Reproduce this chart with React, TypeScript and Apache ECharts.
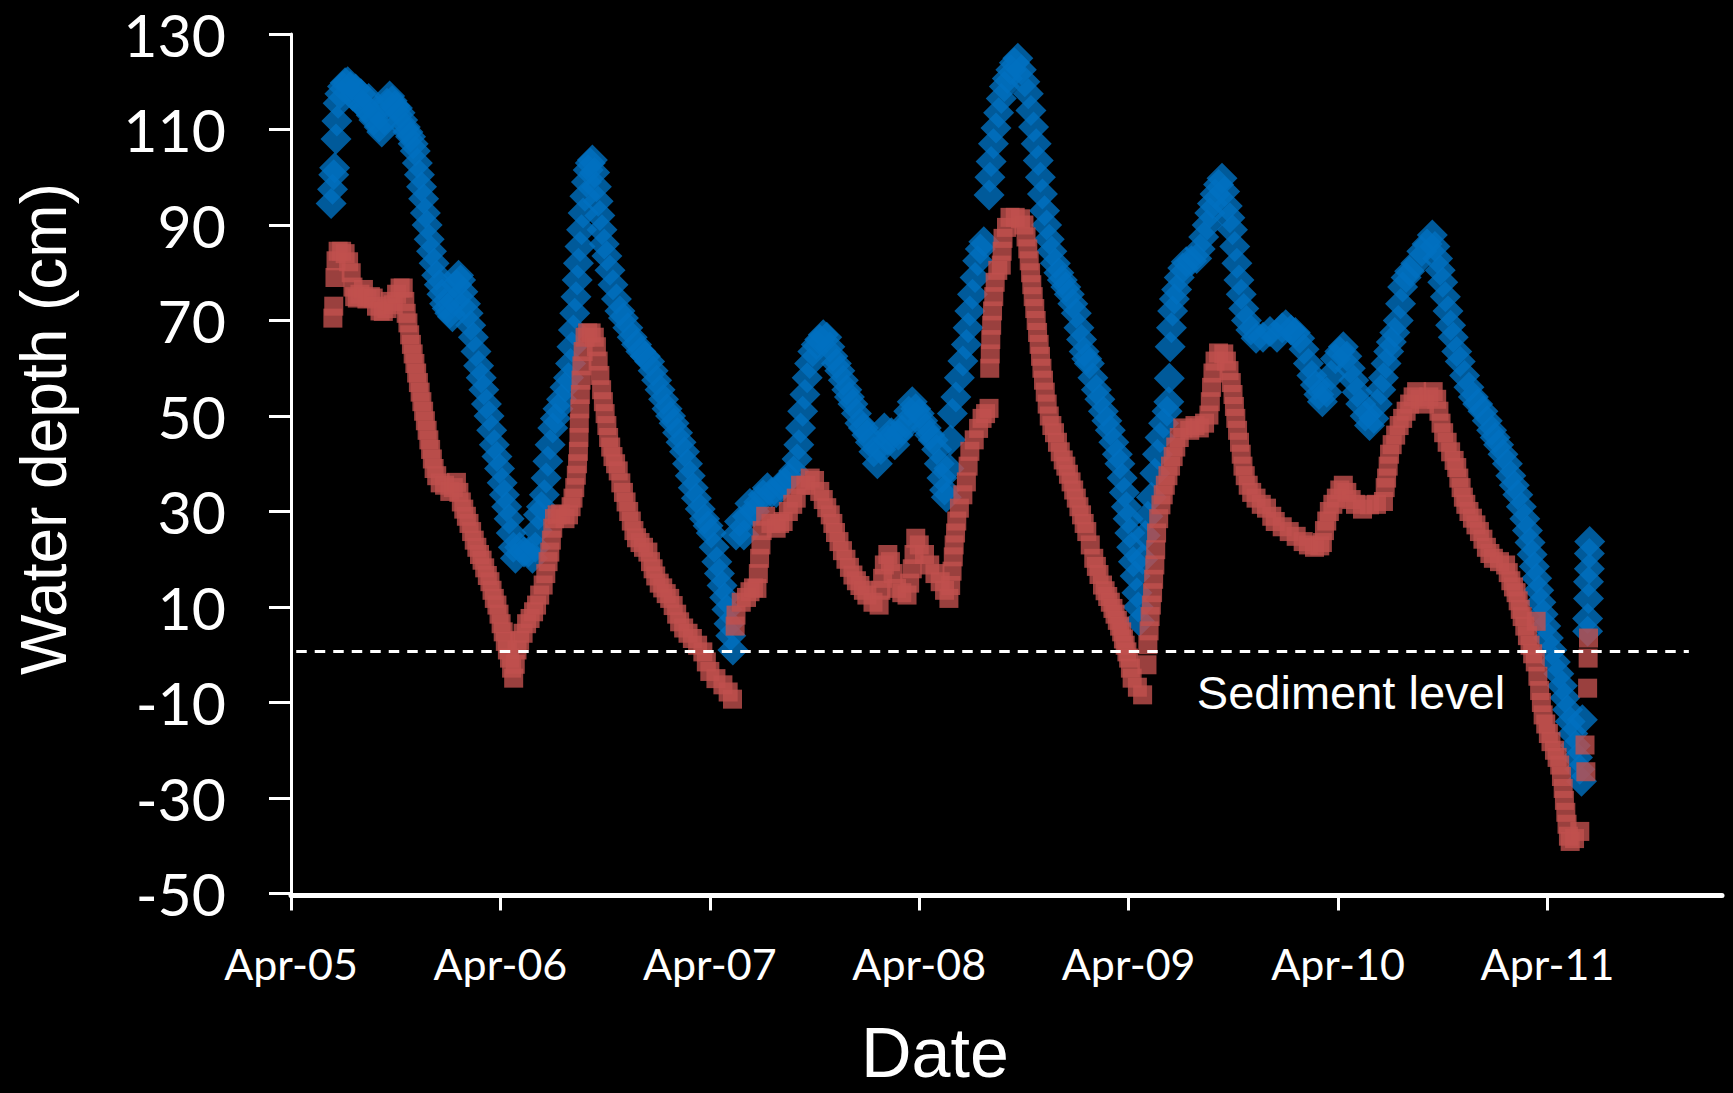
import React, { useEffect, useRef } from "react";
import * as echarts from "echarts";

// x values are months since Apr-05
const tickMonths = [0, 12, 24, 36, 48, 60, 72];
const tickLabels = ["Apr-05", "Apr-06", "Apr-07", "Apr-08", "Apr-09", "Apr-10", "Apr-11"];
const yTickValues = [-50, -30, -10, 10, 30, 50, 70, 90, 110, 130];
const sedimentLevel = 0.8;
const sedimentSpan = [0.3, 80.1];

const blueDepth: [number, number][] = [
  [2.3, 94.5], [2.38, 97.5], [2.45, 100.5], [2.5, 102], [2.58, 108], [2.63, 111.8], [2.7, 115.5], [2.8, 117.5],
  [2.95, 119], [3.1, 119.8], [3.25, 120], [3.4, 119], [3.55, 117], [3.7, 118.5], [3.85, 116], [4.0, 117.5],
  [4.15, 115], [4.3, 114.5], [4.45, 116.5], [4.6, 113], [4.75, 112], [4.9, 114], [5.05, 110.5], [5.2, 109.5],
  [5.35, 112], [5.5, 115.5], [5.65, 117], [5.8, 116], [5.95, 115], [6.1, 114.5], [6.25, 113.5], [6.4, 112],
  [6.55, 110.5], [6.7, 109.5], [6.85, 108.5], [7.0, 107], [7.12, 105.5], [7.24, 103], [7.36, 100.5], [7.48, 98],
  [7.6, 95.5], [7.7, 92.5], [7.8, 90], [7.92, 87], [8.05, 84.5], [8.2, 82], [8.35, 79.5], [8.5, 77.5],
  [8.65, 75.5], [8.8, 73.5], [8.95, 72.5], [9.1, 71.5], [9.25, 70.8], [9.38, 74], [9.48, 77.5], [9.6, 79.5],
  [9.72, 78.5], [9.85, 76], [10.0, 73.5], [10.15, 71.5], [10.3, 69], [10.45, 66.5], [10.6, 63.5], [10.75, 60.5],
  [10.9, 58], [11.05, 55.5], [11.2, 52.5], [11.35, 50], [11.5, 47], [11.65, 44], [11.8, 41.5], [11.95, 39],
  [12.1, 36], [12.23, 33.5], [12.36, 31], [12.5, 28.5], [12.62, 25.5], [12.74, 22.5], [12.86, 20.2], [13.1, 22.5],
  [13.35, 21.5], [13.6, 21.5], [13.84, 20.2], [14.0, 22.5], [14.1, 26], [14.18, 29.3], [14.35, 31], [14.52, 33.5],
  [14.62, 37], [14.72, 40.5], [14.85, 44], [15.0, 47.5], [15.15, 49.5], [15.3, 51.5], [15.5, 53.5], [15.7, 56],
  [15.9, 58], [16.02, 61], [16.1, 64.5], [16.18, 68], [16.26, 71.5], [16.33, 75], [16.4, 78.5], [16.47, 82],
  [16.56, 85.5], [16.65, 89], [16.74, 92.5], [16.84, 96], [16.93, 99], [17.03, 101.5], [17.15, 103], [17.27, 103.6],
  [17.4, 101], [17.5, 98], [17.6, 95], [17.7, 92], [17.82, 89], [17.95, 86], [18.1, 83.5], [18.28, 80.5],
  [18.45, 77.5], [18.65, 74.5], [18.85, 72], [19.05, 70.5], [19.3, 68.5], [19.55, 66.5], [19.8, 65], [20.05, 63.5],
  [20.3, 62.5], [20.55, 61.4], [20.75, 59.5], [20.95, 57.5], [21.15, 55.5], [21.35, 53.5], [21.55, 51.5], [21.75, 50],
  [21.95, 48.5], [22.15, 46.5], [22.35, 44.5], [22.55, 42.5], [22.72, 40], [22.88, 37.5], [23.05, 35], [23.23, 32.8],
  [23.45, 30.5], [23.7, 28.5], [23.9, 27], [24.08, 25.5], [24.25, 22.5], [24.4, 19.5], [24.55, 17], [24.7, 14.5],
  [24.85, 12], [24.98, 9.5], [25.1, 6.5], [25.2, 4], [25.32, 1.0], [25.5, 25.1], [25.7, 27.9], [25.95, 25.1],
  [26.15, 29], [26.3, 31.7], [26.55, 30], [26.8, 32], [27.05, 33.5], [27.3, 35], [27.55, 34], [27.8, 34],
  [28.05, 35.5], [28.3, 36], [28.55, 37], [28.8, 38.5], [29.0, 41], [29.1, 44], [29.2, 47.5], [29.32, 51],
  [29.45, 54.5], [29.58, 58], [29.72, 61], [29.9, 63.5], [30.1, 65], [30.3, 66], [30.5, 67], [30.7, 66.5],
  [30.88, 64.5], [31.05, 62.5], [31.25, 61], [31.45, 59.5], [31.65, 57.5], [31.85, 55.5], [32.0, 54], [32.2, 52.5],
  [32.4, 50.5], [32.6, 48.5], [32.8, 47.5], [33.0, 46], [33.2, 44.5], [33.4, 42.5], [33.6, 40], [33.8, 43],
  [34.0, 47.5], [34.2, 45], [34.4, 46.5], [34.6, 44], [34.8, 46], [35.0, 47], [35.2, 48.5], [35.4, 51],
  [35.6, 53], [35.8, 51.5], [36.0, 50.5], [36.2, 49], [36.4, 47.5], [36.6, 46], [36.8, 45], [37.0, 43],
  [37.15, 40], [37.3, 37], [37.45, 34.5], [37.55, 33], [37.7, 39], [37.8, 45], [37.9, 50.5], [38.1, 54],
  [38.3, 58], [38.5, 61.5], [38.7, 65], [38.8, 68.5], [38.9, 72], [39.05, 75.5], [39.2, 79], [39.35, 82.5],
  [39.5, 85], [39.7, 86.5], [40.0, 96.3], [40.05, 100], [40.12, 103.3], [40.25, 107], [40.4, 110.3], [40.55, 113.5],
  [40.7, 116.5], [40.88, 119], [41.05, 120.7], [41.25, 122.5], [41.45, 124], [41.65, 124.9], [41.85, 122.5], [42.05, 120],
  [42.25, 117.5], [42.4, 114], [42.55, 110.5], [42.7, 107], [42.82, 103.5], [42.94, 100], [43.06, 96.5], [43.18, 93],
  [43.3, 90], [43.45, 87], [43.6, 84.5], [43.8, 82], [44.0, 80], [44.2, 78.5], [44.4, 77], [44.6, 75.5],
  [44.8, 73.5], [45.0, 71.5], [45.15, 68.5], [45.3, 66], [45.45, 63.5], [45.6, 62], [45.75, 61], [45.95, 58],
  [46.15, 55.5], [46.35, 53.5], [46.55, 51], [46.75, 49], [46.95, 47], [47.15, 44.5], [47.35, 42], [47.5, 40],
  [47.63, 37], [47.75, 34], [47.87, 31], [47.97, 28.5], [48.07, 25.5], [48.17, 22.5], [48.27, 19.5], [48.37, 16.5],
  [48.47, 13], [48.55, 10], [48.62, 7], [48.8, 20], [48.95, 25], [49.1, 29], [49.3, 33], [49.5, 38],
  [49.65, 42], [49.8, 45.5], [50.0, 48.5], [50.2, 51], [50.3, 53], [50.33, 57.9], [50.38, 64.5], [50.45, 68.5],
  [50.52, 72], [50.62, 74.5], [50.75, 76.5], [50.9, 79], [51.1, 81], [51.3, 82.3], [51.6, 82.5], [51.9, 83],
  [52.1, 85], [52.3, 87.5], [52.5, 90], [52.65, 92.5], [52.8, 94.5], [52.95, 96.5], [53.15, 98.5], [53.35, 99.8],
  [53.5, 97], [53.65, 94], [53.8, 91.5], [53.95, 89], [54.08, 85.5], [54.2, 82], [54.32, 78.5], [54.45, 75.5],
  [54.6, 72.5], [54.75, 70], [55.0, 68], [55.3, 66.3], [55.7, 66.5], [56.1, 67.7], [56.5, 66.5], [56.8, 68.5],
  [57.0, 69.1], [57.3, 68], [57.55, 67.5], [57.8, 66.3], [58.05, 64], [58.3, 61], [58.5, 58.5], [58.7, 56.5],
  [58.9, 54.5], [59.1, 53], [59.35, 55], [59.6, 58.5], [59.85, 62], [60.1, 63.5], [60.3, 64.5], [60.5, 62.5],
  [60.7, 60], [60.9, 57.5], [61.1, 55], [61.3, 52.5], [61.55, 50], [61.8, 48], [62.05, 49.5], [62.25, 52.5],
  [62.45, 55.5], [62.6, 58], [62.75, 61], [62.9, 63.5], [63.05, 65.5], [63.25, 67.5], [63.45, 70], [63.58, 73.5],
  [63.7, 77], [63.9, 79], [64.1, 80.3], [64.45, 82], [64.8, 84.5], [65.1, 86], [65.4, 87.9], [65.55, 85.5],
  [65.7, 83], [65.85, 80.5], [66.0, 78], [66.15, 75], [66.3, 72], [66.45, 69], [66.6, 66.5], [66.8, 63.5],
  [67.0, 61.4], [67.25, 58.5], [67.5, 56], [67.75, 54], [68.0, 52.5], [68.3, 51], [68.55, 49], [68.8, 47],
  [69.0, 45.5], [69.2, 44], [69.45, 42], [69.7, 40], [69.9, 37.5], [70.1, 35.5], [70.3, 33.5], [70.5, 31],
  [70.7, 28.5], [70.85, 26], [71.0, 23.5], [71.12, 21], [71.25, 18.5], [71.38, 16], [71.5, 13.5], [71.62, 11],
  [71.75, 8.5], [71.9, 6], [72.05, 3.5], [72.25, 1], [72.45, -1.5], [72.65, -4], [72.85, -6.5], [73.0, -9],
  [73.15, -11.5], [73.3, -14], [73.45, -16.5], [73.6, -19], [73.72, -21.5], [73.85, -24], [73.95, -26.5], [74.0, -13.6],
  [74.3, 4.9], [74.3, 7.6], [74.35, 11.8], [74.35, 15.3], [74.4, 18], [74.4, 21.2], [74.42, 23.7],
];

const redDepth: [number, number][] = [
  [2.4, 70.5], [2.45, 73], [2.52, 79], [2.58, 82.5], [2.7, 84.5], [2.9, 84.5], [3.1, 84], [3.3, 82.3],
  [3.45, 80], [3.55, 77], [3.65, 75], [3.8, 74.7], [3.95, 75.5], [4.15, 76.5], [4.35, 74.5], [4.55, 75],
  [4.71, 74.7], [4.9, 73], [5.1, 72], [5.29, 71.9], [5.5, 72.5], [5.7, 74], [5.86, 73.3], [6.05, 75.5],
  [6.25, 76.8], [6.43, 76.8], [6.52, 74], [6.6, 71.5], [6.7, 69.5], [6.8, 67], [6.9, 65], [7.0, 63],
  [7.1, 61], [7.2, 59], [7.3, 57], [7.4, 55], [7.5, 53], [7.6, 51], [7.7, 49], [7.8, 47],
  [7.9, 45], [8.0, 43], [8.1, 41], [8.2, 39], [8.35, 37.5], [8.55, 36], [8.8, 35.5], [9.1, 34.2],
  [9.3, 35], [9.48, 36.1], [9.62, 34], [9.76, 32], [9.9, 30.5], [10.05, 29], [10.2, 27.5], [10.35, 25.8],
  [10.5, 24], [10.65, 22.5], [10.8, 21], [10.95, 19.8], [11.1, 18.2], [11.25, 16.6], [11.4, 15.3], [11.52, 13.5],
  [11.65, 11.8], [11.8, 10.4], [11.92, 8.5], [12.04, 6.5], [12.16, 4.8], [12.28, 2.8], [12.4, 1], [12.52, -0.7],
  [12.64, -2.8], [12.76, -4.9], [12.85, -2], [12.95, 1], [13.1, 3], [13.3, 4.5], [13.5, 6.5], [13.7, 7.6],
  [13.9, 9], [14.07, 10.4], [14.25, 12.5], [14.45, 14.6], [14.6, 17], [14.73, 19.5], [14.83, 21.5], [14.92, 24],
  [15.0, 26.5], [15.1, 28.5], [15.25, 29.3], [15.45, 29.5], [15.7, 28.5], [15.9, 29.3], [16.05, 31], [16.16, 32.8],
  [16.26, 35], [16.35, 37.6], [16.42, 40], [16.47, 42.6], [16.5, 45.5], [16.52, 48.5], [16.55, 51.5], [16.58, 54.5],
  [16.62, 57.5], [16.67, 60.5], [16.74, 63.5], [16.85, 66.5], [17.0, 67.4], [17.2, 67.4], [17.38, 66.5], [17.5, 64.5],
  [17.6, 61.5], [17.7, 58.5], [17.8, 55.5], [17.9, 53], [18.0, 50.5], [18.1, 48], [18.2, 45.5], [18.32, 43.5],
  [18.45, 41.5], [18.6, 40], [18.75, 38.5], [18.9, 36], [19.05, 34], [19.2, 32], [19.35, 30], [19.5, 28],
  [19.65, 26], [19.8, 24.5], [20.0, 23.5], [20.2, 22.5], [20.45, 21.5], [20.6, 19.5], [20.75, 18], [20.9, 16.5],
  [21.1, 15], [21.3, 14], [21.5, 12.8], [21.7, 11.8], [21.9, 10.3], [22.1, 8.5], [22.27, 6.9], [22.5, 5.6],
  [22.75, 4.5], [23.0, 3.4], [23.3, 2], [23.6, 0.6], [23.8, -1.5], [24.0, -3.5], [24.35, -5], [24.75, -6.3],
  [25.05, -7.8], [25.3, -9.3], [25.45, 6], [25.5, 8.3], [25.8, 11], [26.1, 12], [26.3, 13.2], [26.5, 14],
  [26.7, 13.9], [26.78, 17], [26.85, 20.2], [26.93, 23], [27.0, 26], [27.2, 29], [27.5, 27.5], [27.8, 26.5],
  [28.0, 27.5], [28.2, 27.9], [28.5, 30], [28.75, 31.5], [28.95, 32.8], [29.2, 35.5], [29.5, 35.5], [29.75, 37],
  [30.0, 36.5], [30.3, 34.2], [30.5, 32.5], [30.7, 30.8], [30.9, 29.3], [31.05, 27.5], [31.2, 25.6], [31.4, 23.7],
  [31.6, 21.8], [31.8, 20], [32.0, 18.3], [32.2, 16.7], [32.4, 15.5], [32.6, 14.5], [32.8, 13.5], [33.0, 12.5],
  [33.35, 11], [33.7, 10.4], [33.8, 13.5], [33.9, 16], [34.0, 18.8], [34.2, 21], [34.35, 19.5], [34.5, 17],
  [34.7, 13.9], [35.0, 13], [35.3, 12.5], [35.45, 15], [35.6, 18], [35.7, 21], [35.8, 24.4], [36.0, 23],
  [36.3, 21], [36.6, 18.8], [36.9, 17], [37.2, 15.3], [37.45, 13.5], [37.7, 11.8], [37.8, 14.5], [37.88, 17.5],
  [37.95, 20.5], [38.0, 23.0], [38.08, 25.5], [38.15, 28], [38.3, 30.7], [38.5, 33.5], [38.7, 36.2], [38.8, 39.5],
  [38.9, 42.6], [39.15, 45], [39.4, 47.4], [39.6, 49.5], [39.8, 50.5], [40.0, 51.6], [40.04, 60], [40.07, 63],
  [40.1, 66], [40.15, 69], [40.2, 72], [40.27, 75], [40.35, 78], [40.5, 80.5], [40.7, 81.6], [40.75, 84.5],
  [40.8, 87.2], [41.0, 89.5], [41.2, 91.6], [41.5, 91.6], [41.8, 91.3], [42.0, 90], [42.12, 87.5], [42.22, 85],
  [42.3, 82.5], [42.38, 80], [42.45, 77.5], [42.53, 75], [42.62, 72.5], [42.7, 70], [42.78, 67.5], [42.87, 65],
  [42.95, 62.5], [43.03, 60], [43.12, 57.5], [43.22, 55], [43.33, 52.5], [43.45, 50], [43.6, 48], [43.75, 46.5],
  [43.92, 44.5], [44.08, 42.5], [44.25, 40.8], [44.4, 39.5], [44.55, 37.8], [44.7, 36.2], [44.85, 34.5], [45.0, 32.8],
  [45.15, 31], [45.3, 29.3], [45.45, 27.5], [45.6, 25.8], [45.8, 23], [46.0, 20.2], [46.15, 18.5], [46.3, 16.8],
  [46.5, 14.6], [46.65, 13.4], [46.8, 12.2], [46.95, 11], [47.1, 9.7], [47.22, 8.5], [47.35, 7.2], [47.48, 6],
  [47.6, 4.8], [47.7, 3.3], [47.8, 2], [47.9, 0.6], [48.0, -0.7], [48.1, -2.8], [48.2, -4.9], [48.5, -6.8],
  [48.8, -8.4], [49.05, -2.1], [49.1, 2.1], [49.17, 5], [49.23, 8], [49.3, 10.4], [49.37, 13], [49.43, 15.8],
  [49.5, 18.8], [49.55, 22], [49.6, 25.5], [49.72, 28.5], [49.85, 31.4], [49.98, 33.5], [50.1, 35.5], [50.25, 37.5],
  [50.4, 39.5], [50.55, 41.5], [50.7, 43.5], [50.9, 45.5], [51.1, 47.5], [51.5, 47], [51.8, 48], [52.05, 47.5],
  [52.35, 48.5], [52.6, 50.2], [52.68, 53], [52.75, 56], [52.83, 59], [52.95, 61.5], [53.15, 63.2], [53.45, 63],
  [53.6, 61.5], [53.75, 59.5], [53.88, 57], [53.98, 54.5], [54.06, 52], [54.14, 49.5], [54.24, 47], [54.35, 44.5],
  [54.45, 42], [54.55, 39.5], [54.68, 37.5], [54.85, 35.5], [55.05, 34], [55.3, 32.8], [55.6, 31.5], [55.9, 30.7],
  [56.2, 29], [56.4, 27.9], [56.8, 26.8], [57.2, 25.8], [57.6, 24.8], [58.0, 23.7], [58.3, 23], [58.65, 22.5],
  [58.95, 22.8], [59.1, 23.5], [59.22, 26], [59.35, 28], [59.5, 30], [59.7, 31.5], [59.9, 32.8], [60.1, 34.5],
  [60.3, 35.5], [60.5, 34], [60.75, 32.5], [61.0, 31.5], [61.4, 30.5], [61.8, 31.4], [62.2, 31.5], [62.6, 32.1],
  [62.7, 35], [62.78, 37], [62.87, 39.5], [62.95, 42], [63.1, 44], [63.3, 46], [63.5, 48], [63.7, 49.5],
  [63.9, 51], [64.1, 52.5], [64.3, 54], [64.5, 55.1], [64.7, 53.5], [64.95, 52.5], [65.2, 54], [65.45, 55.1],
  [65.65, 53.5], [65.78, 51], [65.9, 48.5], [66.05, 46.5], [66.25, 44.5], [66.45, 42.5], [66.65, 40.7], [66.8, 39.2],
  [66.92, 37], [67.05, 35], [67.18, 33], [67.32, 31.5], [67.5, 30], [67.7, 28.6], [67.9, 27.2], [68.1, 25.8],
  [68.3, 24.2], [68.5, 22.5], [68.7, 21.2], [68.9, 20.2], [69.25, 19.5], [69.6, 18.8], [69.75, 17.2], [69.9, 15.5],
  [70.05, 14.2], [70.2, 13], [70.32, 11.3], [70.44, 9.5], [70.55, 8], [70.7, 6], [70.85, 4], [71.0, 2],
  [71.15, 0.2], [71.35, 7], [71.3, -1.5], [71.45, -4.5], [71.55, -7.5], [71.65, -10], [71.75, -12.6], [71.9, -14.5],
  [72.05, -16.5], [72.2, -18.2], [72.4, -20], [72.55, -21.5], [72.7, -23.1], [72.8, -25.5], [72.9, -28], [72.97, -30.5],
  [73.05, -33], [73.12, -35.5], [73.2, -38], [73.3, -39.1], [73.55, -38.5], [73.85, -37], [74.15, -18.9], [74.2, -24.5],
  [74.3, -7.0], [74.33, -0.7], [74.35, 3.5],
];

export default function App() {
  const ref = useRef<HTMLDivElement>(null);

  useEffect(() => {
    document.body.style.margin = "0";
    document.body.style.background = "#000";
    const chart = echarts.init(ref.current as HTMLDivElement, null, { renderer: "svg" });
    chart.setOption({
      animation: false,
      backgroundColor: "#000",
      grid: { left: 291, right: 11, top: 34, bottom: 199.5, containLabel: false },
      xAxis: {
        type: "value",
        min: 0,
        max: 82,
        offset: 2,
        axisLine: { show: true, onZero: false, lineStyle: { color: "#fff", width: 5 } },
        axisTick: {
          show: true,
          customValues: tickMonths,
          length: 15,
          lineStyle: { color: "#fff", width: 3 },
        },
        axisLabel: {
          customValues: tickMonths,
          formatter: (v: number) => {
            const i = tickMonths.indexOf(Math.round(v));
            return i >= 0 ? tickLabels[i] : "";
          },
          color: "#fff",
          fontFamily: "Lato",
          fontSize: 43,
          margin: 46,
        },
        splitLine: { show: false },
      },
      yAxis: {
        type: "value",
        min: -50,
        max: 130,
        axisLine: { show: true, onZero: false, lineStyle: { color: "#fff", width: 3 } },
        axisTick: {
          show: true,
          customValues: yTickValues,
          length: 22,
          lineStyle: { color: "#fff", width: 3 },
        },
        axisLabel: {
          customValues: yTickValues,
          color: "#fff",
          fontFamily: "Lato",
          fontSize: 59,
          margin: 65,
        },
        splitLine: { show: false },
      },
      graphic: [
        {
          type: "text",
          x: 44,
          y: 429,
          rotation: Math.PI / 2,
          style: {
            text: "Water depth (cm)",
            fill: "#fff",
            fontFamily: "Liberation Sans",
            fontSize: 64,
            lineHeight: 64,
            align: "center",
            verticalAlign: "middle",
          },
        },
        {
          type: "text",
          x: 935,
          y: 1053,
          style: {
            text: "Date",
            fill: "#fff",
            fontFamily: "Liberation Sans",
            fontSize: 70,
            lineHeight: 56,
            align: "center",
            verticalAlign: "middle",
          },
        },
        {
          type: "text",
          x: 1351,
          y: 692,
          z: 20,
          style: {
            text: "Sediment level",
            fill: "#fff",
            fontFamily: "Liberation Sans",
            fontSize: 47,
            align: "center",
            verticalAlign: "middle",
          },
        },
      ],
      series: [
        {
          type: "scatter",
          data: blueDepth,
          symbol: "diamond",
          symbolSize: 31,
          itemStyle: { color: "#0070C0" },
          z: 2,
          silent: true,
        },
        {
          type: "scatter",
          data: redDepth,
          symbol: "rect",
          symbolSize: 19,
          itemStyle: { color: "#C0504D" },
          z: 3,
          silent: true,
        },
        {
          type: "line",
          data: [],
          z: 5,
          silent: true,
          markLine: {
            silent: true,
            symbol: "none",
            label: { show: false },
            lineStyle: { color: "#fff", width: 3, type: [10.5, 8] },
            data: [
              [
                { coord: [sedimentSpan[0], sedimentLevel] },
                { coord: [sedimentSpan[1], sedimentLevel] },
              ],
            ],
          },
        },
      ],
    });
    return () => chart.dispose();
  }, []);

  return <div ref={ref} style={{ width: 1733, height: 1093, background: "#000" }} />;
}
